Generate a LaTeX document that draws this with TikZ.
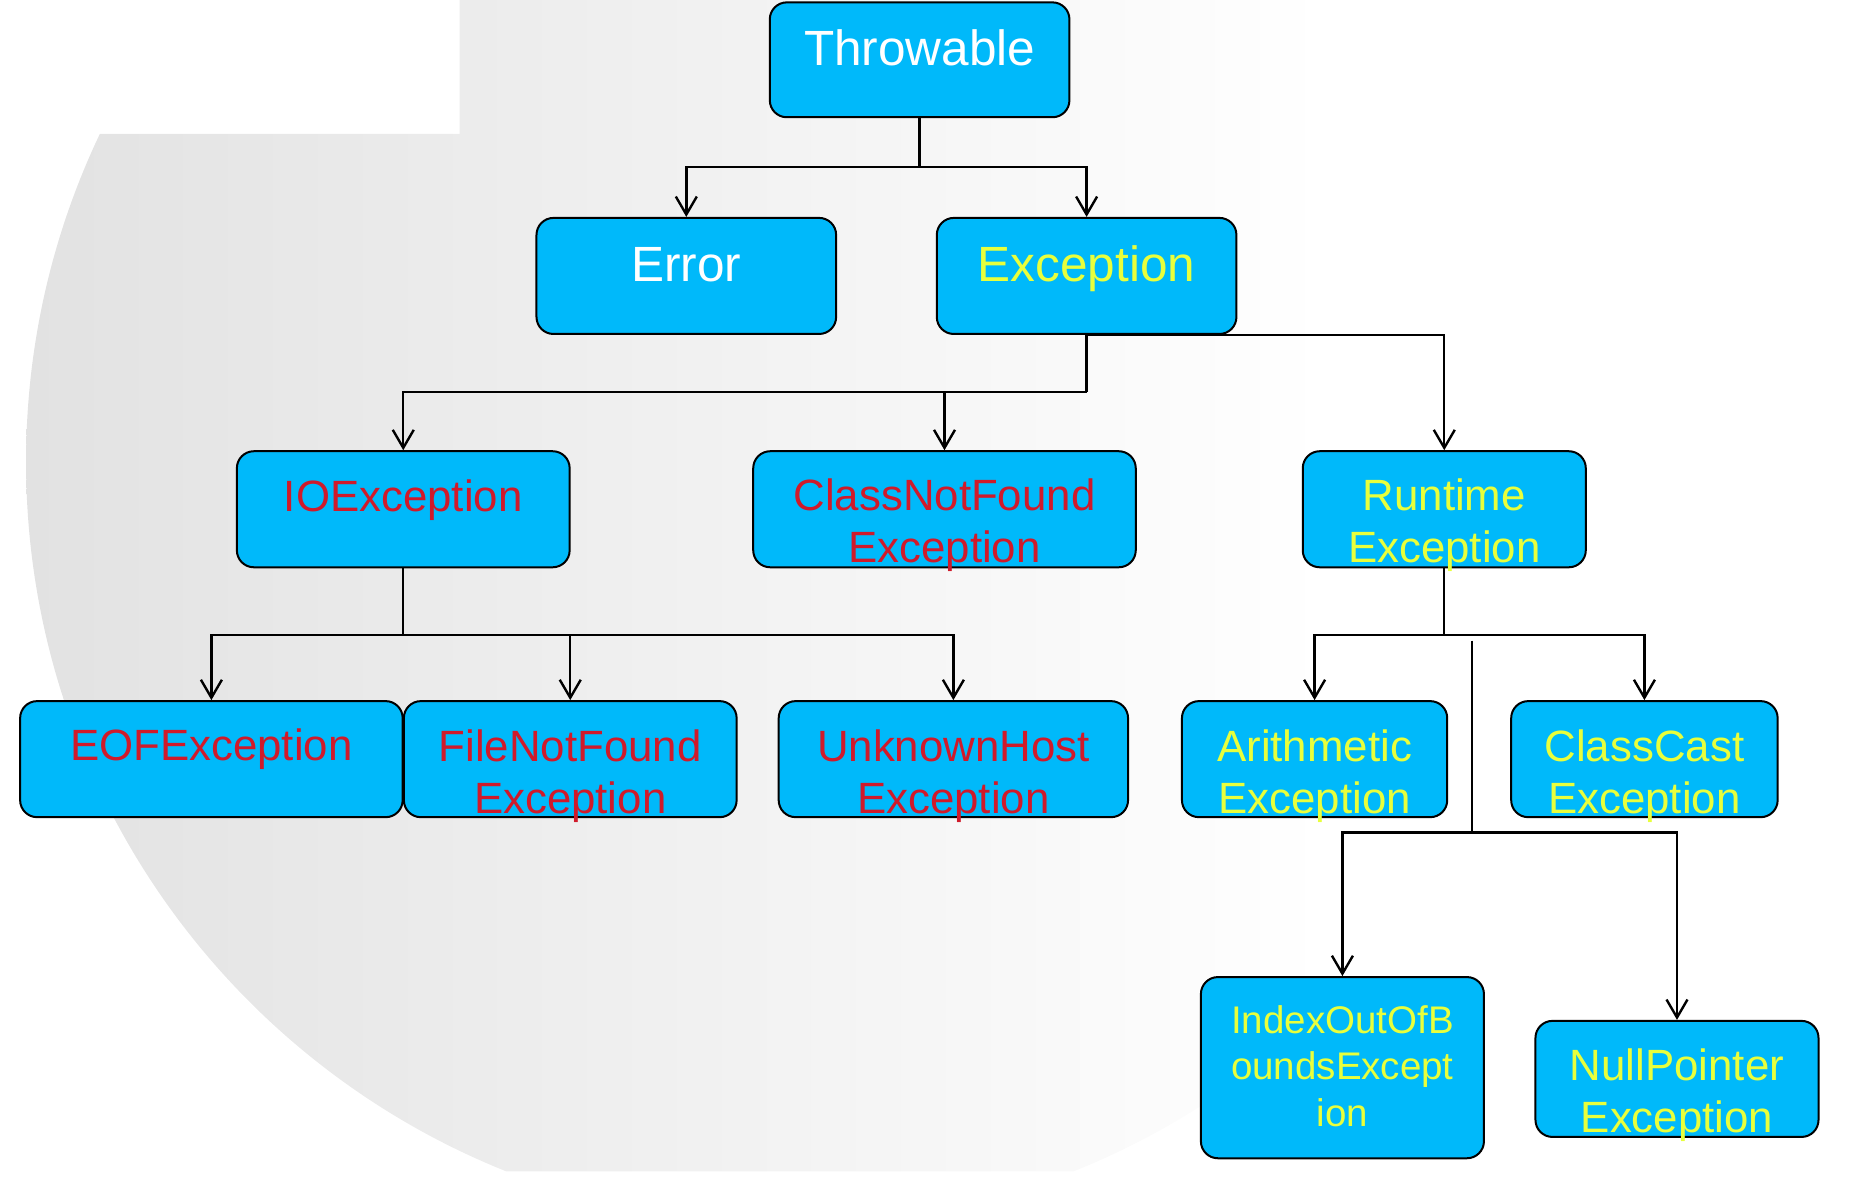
\documentclass[tikz,border=0pt]{standalone}
\usepackage{fontspec}
\setmainfont{Liberation Sans}
\usetikzlibrary{arrows.meta}
\definecolor{boxblue}{RGB}{0,185,250}
\definecolor{txtred}{RGB}{208,26,42}
\definecolor{txtyel}{RGB}{232,255,60}
\definecolor{bgdark}{RGB}{226,226,226}
\tikzset{
  box/.style n args={2}{draw=black, fill=boxblue, line width=2pt, rounded corners=17pt,
    minimum width={#1*1.1843pt}, minimum height={#2*1.1843pt}, inner sep=0pt},
  bigtxt/.style={anchor=base, inner sep=0pt, align=center, font=\fontsize{49.5}{52}\selectfont},
  txt/.style={anchor=base, inner sep=0pt, align=center, font=\fontsize{43.8}{52}\selectfont},
  smalltxt/.style={anchor=base, inner sep=0pt, align=center, font=\fontsize{38.5}{46.5}\selectfont},
  conn/.style={draw=black, line width=2.4pt},
  arr/.style={conn, -{Straight Barb[length=18pt,width=21pt,line width=2.4pt]}}
}
\begin{document}
\begin{tikzpicture}[x=1.1843pt,y=-1.1843pt]
\useasboundingbox (0,0) rectangle (1568,994);
% background
\begin{scope}
  \clip (0,113) -- (388,113) -- (388,0) -- (1568,0) -- (1568,989) -- (0,989) -- cycle;
  \clip (667,390) circle[radius=645];
  \shade[left color=bgdark, right color=white] (22,-10) rectangle (1120,1000);
\end{scope}
% boxes
\node[box={253}{97}] (thr) at (776.5,50.5) {};
\node[box={253}{98}] (err) at (579.5,233) {};
\node[box={253}{98}] (exc) at (917.5,233) {};
\node[box={281}{98}] (io) at (340.5,430) {};
\node[box={323}{98}] (cnf) at (797.5,430) {};
\node[box={239}{98}] (rt) at (1219.5,430) {};
\node[box={323}{98}] (eof) at (178.5,641) {};
\node[box={281}{98}] (fnf) at (481.5,641) {};
\node[box={295}{98}] (uh) at (805,641) {};
\node[box={224}{98}] (ar) at (1110,641) {};
\node[box={225}{98}] (cc) at (1388.5,641) {};
\node[box={239}{153}] (ioob) at (1133.5,901.5) {};
\node[box={239}{98}] (np) at (1416,911) {};
% texts (base anchor = baseline of the last line)
\node[bigtxt, text=white] (thrt) at (776.5,55.6) {Throwable};
\node[bigtxt, text=white] (errt) at (579.5,237.5) {Error};
\node[bigtxt, text=txtyel] (exct) at (917.5,237.5) {Exception};
\node[txt, text=txtred] (iot) at (340.5,431.5) {IOException};
\node[txt, text=txtred] (cnft) at (797.5,475) {ClassNotFound\\Exception};
\node[txt, text=txtyel] (rtt) at (1219.5,475) {Runtime\\Exception};
\node[txt, text=txtred] (eoft) at (178.5,642.5) {EOFException};
\node[txt, text=txtred] (fnft) at (481.5,686.5) {FileNotFound\\Exception};
\node[txt, text=txtred] (uht) at (805,686.5) {UnknownHost\\Exception};
\node[txt, text=txtyel] (art) at (1110,686.5) {Arithmetic\\Exception};
\node[txt, text=txtyel] (cct) at (1388.5,686.5) {ClassCast\\Exception};
\node[smalltxt, text=txtyel] (ioobt) at (1133.5,951) {IndexOutOfB\\oundsExcept\\ion};
\node[txt, text=txtyel] (npt) at (1416,956) {NullPointer\\Exception};
% connectors
\coordinate (b1) at (776.5,141);
\coordinate (b2) at (917.5,331);
\coordinate (b3) at (340.5,536);
\coordinate (b4) at (1219.5,536);
\coordinate (s5) at (1243,541);
\coordinate (b5) at (1243,703);
\draw[conn] (thr.south) -- (b1);
\draw[arr] (b1) -| (err.north);
\draw[arr] (b1) -| (exc.north);
\draw[conn] (exc.south) -- (b2);
\draw[arr] (b2) -| (io.north);
\draw[arr] (b2) -| (cnf.north);
\draw[arr] (exc.south) -| (rt.north);
\draw[conn] (io.south) -- (b3);
\draw[arr] (b3) -| (eof.north);
\draw[arr] (b3) -| (fnf.north);
\draw[arr] (b3) -| (uh.north);
\draw[conn] (rt.south) -- (b4);
\draw[arr] (b4) -| (ar.north);
\draw[arr] (b4) -| (cc.north);
\draw[conn] (s5) -- (b5);
\draw[arr] (b5) -| (ioob.north);
\draw[arr] (b5) -| (np.north);
\end{tikzpicture}
\end{document}
